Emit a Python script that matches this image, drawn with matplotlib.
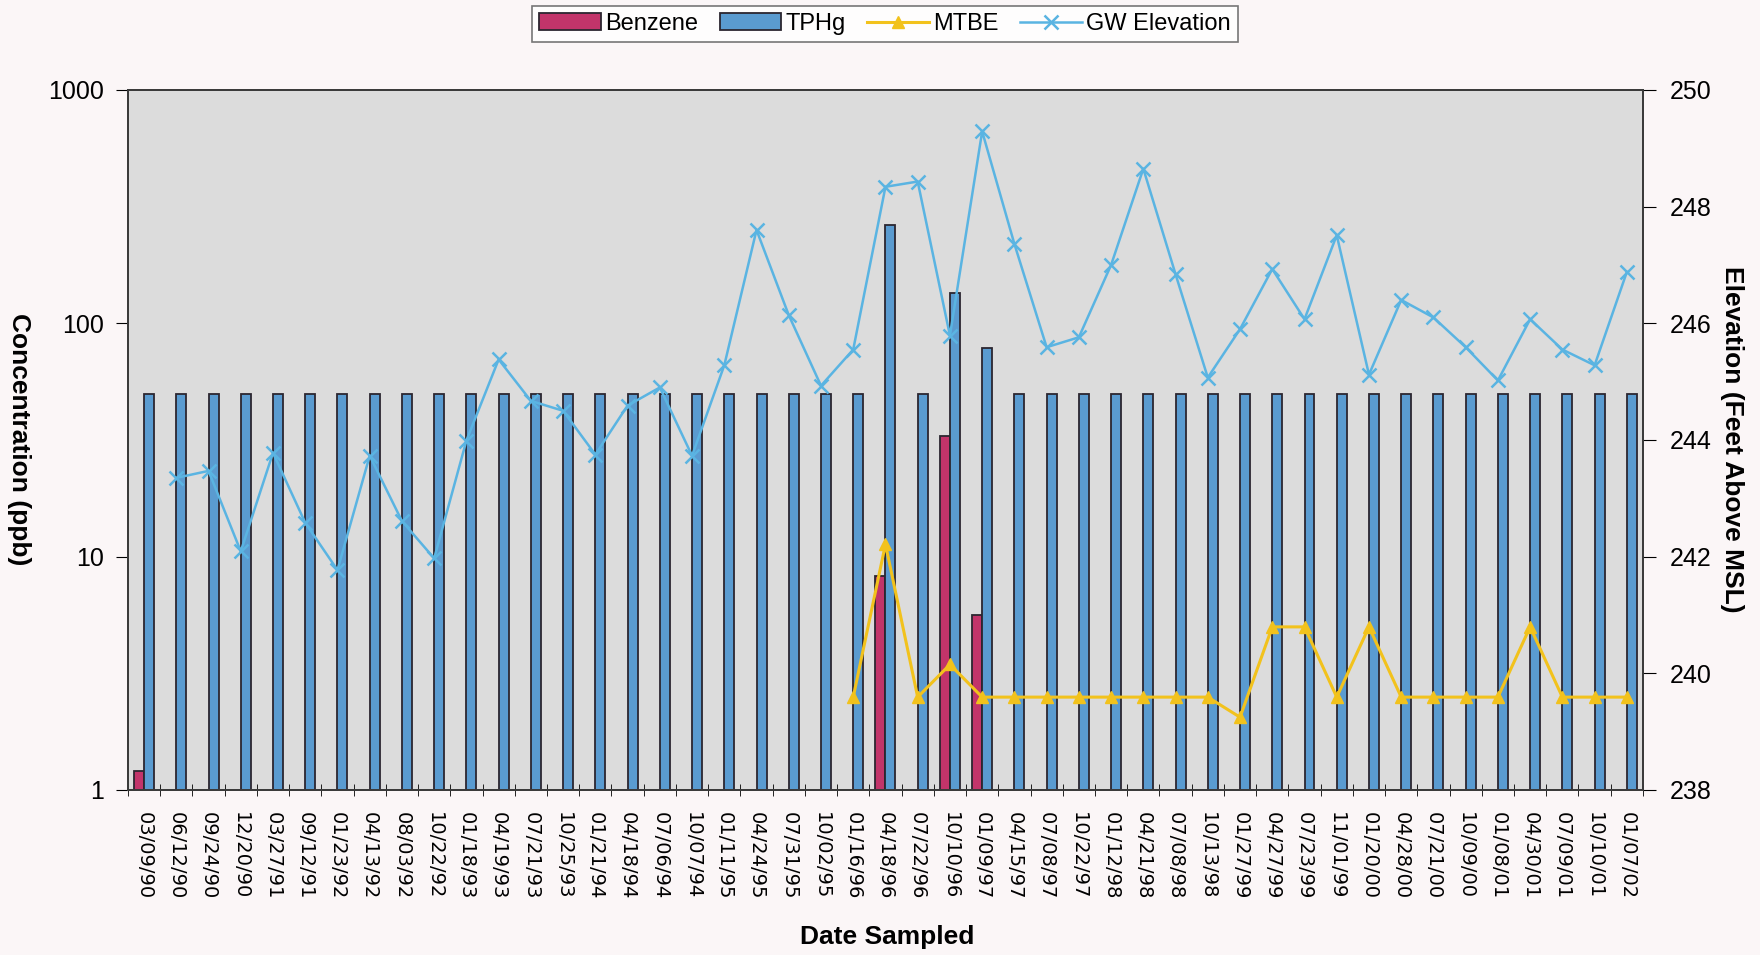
import numpy as np
import matplotlib
matplotlib.use("Agg")
import matplotlib.pyplot as plt
from matplotlib.ticker import FixedLocator, NullLocator

# sampling dates (category axis)
dates = ["03/09/90", "06/12/90", "09/24/90", "12/20/90", "03/27/91", "09/12/91",
         "01/23/92", "04/13/92", "08/03/92", "10/22/92", "01/18/93", "04/19/93",
         "07/21/93", "10/25/93", "01/21/94", "04/18/94", "07/06/94", "10/07/94",
         "01/11/95", "04/24/95", "07/31/95", "10/02/95", "01/16/96", "04/18/96",
         "07/22/96", "10/10/96", "01/09/97", "04/15/97", "07/08/97", "10/22/97",
         "01/12/98", "04/21/98", "07/08/98", "10/13/98", "01/27/99", "04/27/99",
         "07/23/99", "11/01/99", "01/20/00", "04/28/00", "07/21/00", "10/09/00",
         "01/08/01", "04/30/01", "07/09/01", "10/10/01", "01/07/02"]

nan = np.nan

# concentrations (ppb), nan = not detected / not analysed
benzene = [1.2] + [nan] * 22 + [8.3, nan, 33, 5.6] + [nan] * 20

tphg = [50] * 23 + [265, 50, 135, 78] + [50] * 20

mtbe = [nan] * 22 + [2.5, 11.3, 2.5, 3.45, 2.5,
                     2.5, 2.5, 2.5, 2.5, 2.5, 2.5, 2.5,
                     2.05, 5.0, 5.0, 2.5, 5.0, 2.5, 2.5, 2.5, 2.5, 5.0,
                     2.5, 2.5, 2.5]

# groundwater elevation (feet above MSL)
gw_elev = [nan, 243.35, 243.47, 242.09, 243.78, 242.58, 241.77, 243.73, 242.61,
           241.97, 243.99, 245.38, 244.67, 244.50, 243.75, 244.59, 244.90, 243.73,
           245.28, 247.60, 246.14, 244.93, 245.55, 248.34, 248.43, 245.79, 249.29,
           247.36, 245.59, 245.76, 247.00, 248.65, 246.84, 245.07, 245.90, 246.93,
           246.07, 247.51, 245.12, 246.40, 246.10, 245.59, 245.02, 246.07, 245.55,
           245.28, 246.88]

#==============================================================================#

fig = plt.figure(figsize=(17.6, 9.55), dpi=100, facecolor="#fbf6f7")
ax = fig.add_axes([0.0727, 0.1728, 0.8608, 0.733])
ax.set_facecolor("#dcdcdc")

x = np.arange(len(dates))
w = 0.31

b1 = ax.bar(x - w / 2, benzene, w, color="#c2346a", edgecolor="#2b2630",
            linewidth=1.3, label="Benzene", zorder=2)
b2 = ax.bar(x + w / 2, tphg, w, color="#5a9bd0", edgecolor="#2b2630",
            linewidth=1.3, label="TPHg", zorder=2)
l1, = ax.plot(x, mtbe, color="#f2c21c", marker="^", markersize=8, lw=2.2,
              label="MTBE", zorder=3)

ax.set_yscale("log")
ax.set_ylim(1, 1000)
ax.set_xlim(-0.5, len(dates) - 0.5)
ax.yaxis.set_major_locator(FixedLocator([1, 10, 100, 1000]))
ax.yaxis.set_minor_locator(NullLocator())
ax.set_yticklabels(["1", "10", "100", "1000"], fontsize=18,
                   family="Liberation Sans")

ax.set_xticks(x)
ax.set_xticklabels(dates, rotation=270, fontsize=14, family="DejaVu Sans",
                   ha="center", va="top")
ax.set_xticks(np.arange(len(dates) + 1) - 0.5, minor=True)
ax.tick_params(axis="x", which="major", length=0, pad=16)
ax.tick_params(axis="x", which="minor", length=8, direction="inout")
ax.tick_params(axis="y", which="major", length=9, direction="out", pad=8)

for s in ax.spines.values():
    s.set_color("#3a3a3a")
    s.set_linewidth(1.3)

# right axis: water table elevation
ax2 = ax.twinx()
l2, = ax2.plot(x, gw_elev, color="#5ab4e2", marker="x", markersize=10,
               markeredgewidth=1.8, lw=1.8, label="GW Elevation", zorder=4)
ax2.set_ylim(238, 250)
ax2.set_yticks(np.arange(238, 251, 2))
ax2.set_yticklabels([str(v) for v in range(238, 251, 2)], fontsize=18,
                    family="Liberation Sans")
ax2.tick_params(axis="y", length=9, direction="out", pad=10)
for s in ax2.spines.values():
    s.set_color("#3a3a3a")
    s.set_linewidth(1.3)

# axis titles
fig.text(0.011, 0.54, "Concentration (ppb)", rotation=270, fontsize=19,
         fontweight="bold", family="Liberation Sans", ha="center", va="center")
fig.text(0.984, 0.54, "Elevation (Feet Above MSL)", rotation=270, fontsize=19,
         fontweight="bold", family="Liberation Sans", ha="center", va="center")
fig.text(0.504, 0.019, "Date Sampled", fontsize=19, fontweight="bold",
         family="Liberation Sans", ha="center", va="center")

# legend across the top
leg = fig.legend([b1, b2, l1, l2], ["Benzene", "TPHg", "MTBE", "GW Elevation"],
                 loc="center", bbox_to_anchor=(0.503, 0.975),
                 ncol=4, frameon=True, fancybox=False,
                 handlelength=2.6, handletextpad=0.2, columnspacing=0.9,
                 borderpad=0.3, prop={"family": "Liberation Sans", "size": 17})
leg.get_frame().set_edgecolor("#555555")
leg.get_frame().set_linewidth(1.2)
leg.get_frame().set_facecolor("#ffffff")

fig.savefig("out.png", dpi=100, facecolor=fig.get_facecolor())
